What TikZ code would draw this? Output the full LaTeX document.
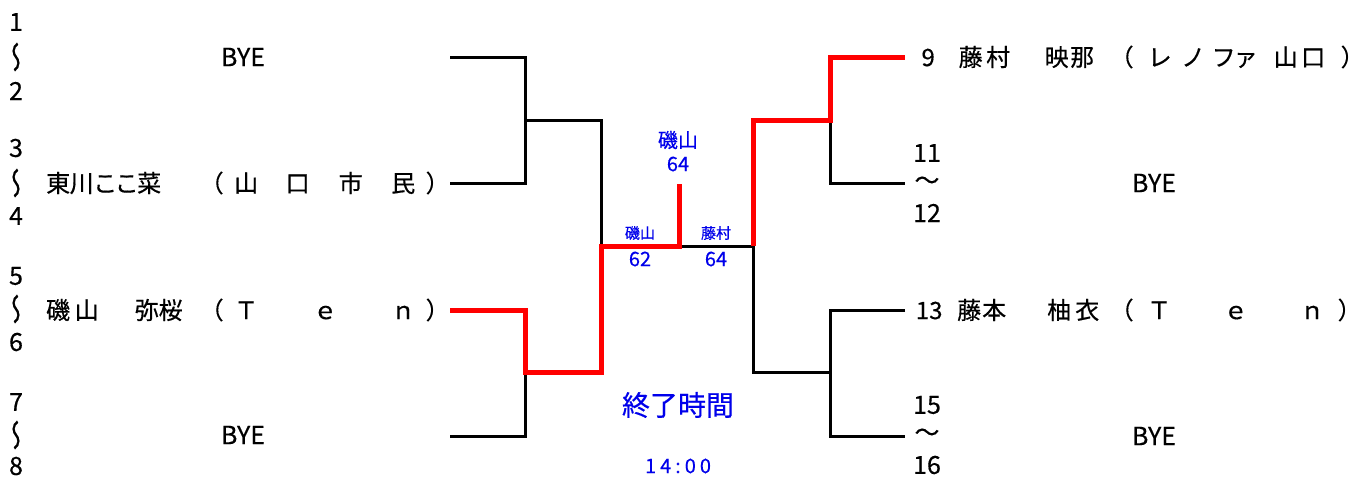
\documentclass[tikz,border=0pt]{standalone}
\usepackage{fontspec}
\setmainfont{Noto Sans CJK JP}[FakeBold=0.4]
\usepackage{graphicx}
\definecolor{lblue}{RGB}{0,0,235}
\newcommand\cc[2]{\makebox[0pt][l]{\hspace*{#1pt}\makebox[0pt]{#2}}}
\newcommand\fs[1]{\fontsize{#1}{#1}\selectfont}
\newcommand\vwave{{\addfontfeatures{RawFeature=+vert}\scalebox{1}[1.25]{〜}}}
\begin{document}
\begin{tikzpicture}[x=1pt,y=-1pt,
  bk/.style={line width=3pt, black, line join=miter},
  rd/.style={line width=5pt, red, line join=miter},
  num/.style={inner sep=0pt, anchor=center, font=\fs{25}},
  nm/.style={inner sep=0pt, anchor=west, font=\fs{24}},
  bye/.style={inner sep=0pt, anchor=center, font=\fs{25}},
  sname/.style={inner sep=0pt, anchor=center, text=lblue, font=\fs{15}},
  sscore/.style={inner sep=0pt, anchor=center, text=lblue, font=\fs{20}}]
\useasboundingbox (0,0) rectangle (1369,477);
\fill[white] (0,0) rectangle (1369,477);

% left seeds numbers
\node[num] (n1) at (16,22) {1};
\node[num] (w1) at (16,57) {\vwave};
\node[num] (n2) at (16,91) {2};
\node[num] (n3) at (16,148) {3};
\node[num] (w3) at (16,183) {\vwave};
\node[num] (n4) at (16,216) {4};
\node[num] (n5) at (16,276) {5};
\node[num] (w5) at (16,309) {\vwave};
\node[num] (n6) at (16,342) {6};
\node[num] (n7) at (16,402) {7};
\node[num] (w7) at (16,435) {\vwave};
\node[num] (n8) at (16,466) {8};

% left entries
\node[bye] (bye1) at (243,57) {BYE};
\node[nm] (p3) at (0,183) {\cc{57.5}{東}\cc{81}{川}\cc{104.5}{こ}\cc{126}{こ}\cc{148.5}{菜}\cc{211}{（}\cc{245.5}{山}\cc{271}{　}\cc{297}{口}\cc{323}{　}\cc{350}{市}\cc{376}{　}\cc{402.5}{民}\cc{437}{）}};
\node[nm] (p5) at (0,310) {\cc{57.5}{磯}\cc{86}{山}\cc{116}{　}\cc{146}{弥}\cc{170}{桜}\cc{211}{（}\cc{245.5}{Ｔ}\cc{272}{　}\cc{298}{　}\cc{324.5}{ｅ}\cc{350}{　}\cc{376}{　}\cc{402.5}{ｎ}\cc{437}{）}};
\node[bye] (bye7) at (243,435) {BYE};

% right entries
\node[nm] (p9) at (0,57) {\cc{927.5}{9}\cc{970}{藤}\cc{997.5}{村}\cc{1027}{　}\cc{1056}{映}\cc{1081.5}{那}\cc{1121}{（}\cc{1159}{レ}\cc{1192.5}{ノ}\cc{1223}{フ}\cc{1245}{ァ}\cc{1285}{山}\cc{1312.5}{口}\cc{1352}{）}};
\node[num] (n11) at (927,153) {11};
\node[num] (w11) at (927,183) {〜};
\node[num] (n12) at (927,213) {12};
\node[bye] (bye11) at (1154,183) {BYE};
\node[nm] (p13) at (0,310) {\cc{928.5}{13}\cc{968.5}{藤}\cc{993.5}{本}\cc{1026}{　}\cc{1058.5}{柚}\cc{1086.5}{衣}\cc{1121}{（}\cc{1158.5}{Ｔ}\cc{1184}{　}\cc{1210}{　}\cc{1235}{ｅ}\cc{1260}{　}\cc{1286}{　}\cc{1311.5}{ｎ}\cc{1349}{）}};
\node[num] (n15) at (927,405) {15};
\node[num] (w15) at (927,435) {〜};
\node[num] (n16) at (927,465) {16};
\node[bye] (bye15) at (1154,436) {BYE};

% bracket coordinates
\coordinate (a1) at (450,57);  \coordinate (a1m) at (525,57);
\coordinate (a2) at (450,183); \coordinate (a2m) at (525,183);
\coordinate (a12) at (525,120); \coordinate (b12) at (601,120);
\coordinate (a3) at (450,310); \coordinate (a3m) at (525,310);
\coordinate (a4) at (450,436); \coordinate (a4m) at (525,436);
\coordinate (a34) at (525,372); \coordinate (b34) at (601,372);
\coordinate (bl) at (601,246);
\coordinate (cc) at (679,246); \coordinate (ct) at (679,184);
\coordinate (br) at (753,246);
\coordinate (c12) at (753,120); \coordinate (d12) at (830,120);
\coordinate (d1) at (830,57); \coordinate (e1) at (905,57);
\coordinate (d2) at (830,183); \coordinate (e2) at (905,183);
\coordinate (c34) at (753,372); \coordinate (d34) at (830,372);
\coordinate (d3) at (830,310); \coordinate (e3) at (905,310);
\coordinate (d4) at (830,436); \coordinate (e4) at (905,436);

% black lines
\draw[bk] (a1) -- (a1m) -- (a2m) -- (a2);
\draw[bk] (a12) -- (b12) -- (bl);
\draw[bk] (a4) -- (a4m) -- (a34);
\draw[bk] (cc) -- (br) -- (c34) -- (d34);
\draw[bk] (d12) -- (d2) -- (e2);
\draw[bk] (e3) -- (d3) -- (d4) -- (e4);
% red lines (winners)
\draw[rd] (a3) -- (a3m) -- (a34) -- (b34) -- (bl) -- (cc) -- (ct);
\draw[rd] (br) -- (c12) -- (d12) -- (d1) -- (e1);

% scores
\node[inner sep=0pt, text=lblue, font=\fs{20}] (wn) at (678,140) {磯山};
\node[sscore] (ws) at (678,164) {64};
\node[sname] (ln) at (640,233) {磯山};
\node[sscore] (ls) at (640,259) {62};
\node[sname] (rn) at (716,233) {藤村};
\node[sscore] (rs) at (716,259) {64};
\node[inner sep=0pt, text=lblue, font=\fs{28}] (end) at (678,405) {終了時間};
\node[inner sep=0pt, text=lblue, font=\fs{20}\addfontfeatures{LetterSpace=20}] (tm) at (678,466) {14:00};
\end{tikzpicture}
\end{document}
